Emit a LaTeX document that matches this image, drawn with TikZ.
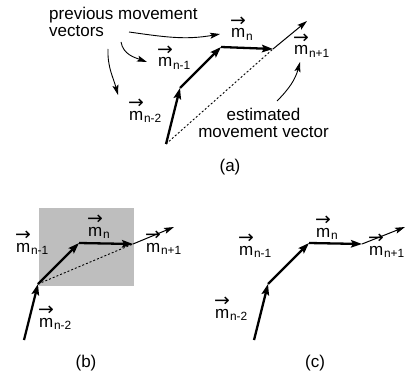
\documentclass[tikz,border=0pt]{standalone}
\usepackage{fontspec}
\usepackage{amsmath}
\setmainfont{Liberation Sans}
\newfontfamily\arrowfont{DejaVu Sans}
\usetikzlibrary{arrows.meta}
\definecolor{ShadeGray}{RGB}{190,190,190}
\newcommand{\mvec}[1]{$\overset{\raisebox{-6.5pt}{\scalebox{1.05}[1]{\arrowfont\fontsize{18}{18}\selectfont →}}}{\text{m}}_{\text{#1}}$}
\tikzset{
  movevec/.style={-{Stealth[length=11pt,width=7.5pt,inset=2pt]},line width=2.3pt},
  nextvec/.style={-{Stealth[length=10pt,width=6pt,inset=2pt]},line width=1pt},
  pointer/.style={-{Stealth[length=10pt,width=6pt,inset=2pt]},line width=0.9pt},
  estline/.style={line width=0.9pt,dash pattern=on 2pt off 2pt},
  vlabel/.style={inner sep=0pt,anchor=base west},
  caption/.style={inner sep=0pt,anchor=base},
  note/.style={inner sep=0pt}
}

\begin{document}
\begin{tikzpicture}[x=1pt,y=1pt,font=\fontsize{17}{17}\selectfont]
  \useasboundingbox (0,0) rectangle (406,-377);
  % (a)
  \coordinate (a0) at (166,-144);
  \coordinate (a1) at (180,-88);
  \coordinate (a2) at (221,-47);
  \coordinate (a3) at (273,-49);
  \coordinate (a4) at (307,-21);
  \draw[estline] (a0) -- (a3);
  \draw[movevec] (a0) -- (a1);
  \draw[movevec] (a1) -- (a2);
  \draw[movevec] (a2) -- (a3);
  \draw[nextvec] (a3) -- (a4);
  \node[vlabel] (amn) at (230,-38) {\mvec{n}};
  \node[vlabel] (amn1) at (293,-55) {\mvec{n+1}};
  \node[vlabel] (amm1) at (157,-67) {\mvec{n-1}};
  \node[vlabel] (amm2) at (128,-120) {\mvec{n-2}};
  \node[note,anchor=north west,align=left] (prev) at (49,-7) {previous movement\\vectors};
  \node[note,anchor=north,align=center] (est) at (263.5,-108) {estimated\\movement vector};
  \coordinate (p1) at (129,-32);
  \coordinate (p2) at (121,-42);
  \coordinate (p3) at (108,-49);
  \coordinate (p4) at (277,-101);
  \coordinate (q1) at (220,-34);
  \coordinate (q2) at (147,-62);
  \coordinate (q3) at (118,-95);
  \coordinate (q4) at (300,-62);
  \draw[pointer] (p1) to[out=-8,in=190] (q1);
  \draw[pointer] (p2) to[out=-80,in=160] (q2);
  \draw[pointer] (p3) to[out=-92,in=105] (q3);
  \draw[pointer] (p4) to[out=45,in=-105] (q4);
  \node[caption] (capa) at (230,-171) {(a)};
  % (b)
  \fill[ShadeGray] (39,-208) rectangle (134,-286);
  \coordinate (b0) at (24,-340);
  \coordinate (b1) at (38,-284);
  \coordinate (b2) at (79,-243);
  \coordinate (b3) at (133,-244);
  \coordinate (b4) at (174,-227);
  \draw[estline] (b1) -- (b3);
  \draw[movevec] (b0) -- (b1);
  \draw[movevec] (b1) -- (b2);
  \draw[movevec] (b2) -- (b3);
  \draw[nextvec] (b3) -- (b4);
  \node[vlabel] (bmn) at (87,-236) {\mvec{n}};
  \node[vlabel] (bmn1) at (145,-252) {\mvec{n+1}};
  \node[vlabel] (bmm1) at (15,-252) {\mvec{n-1}};
  \node[vlabel] (bmm2) at (38,-327) {\mvec{n-2}};
  \node[caption] (capb) at (86,-367) {(b)};
  % (c)
  \coordinate (c0) at (254,-340);
  \coordinate (c1) at (268,-284);
  \coordinate (c2) at (309,-243);
  \coordinate (c3) at (362,-244);
  \coordinate (c4) at (405,-227);
  \draw[movevec] (c0) -- (c1);
  \draw[movevec] (c1) -- (c2);
  \draw[movevec] (c2) -- (c3);
  \draw[nextvec] (c3) -- (c4);
  \node[vlabel] (cmn) at (315,-237) {\mvec{n}};
  \node[vlabel] (cmn1) at (368,-255) {\mvec{n+1}};
  \node[vlabel] (cmm1) at (238,-255) {\mvec{n-1}};
  \node[vlabel] (cmm2) at (214,-318) {\mvec{n-2}};
  \node[caption] (capc) at (315,-367) {(c)};
\end{tikzpicture}
\end{document}
